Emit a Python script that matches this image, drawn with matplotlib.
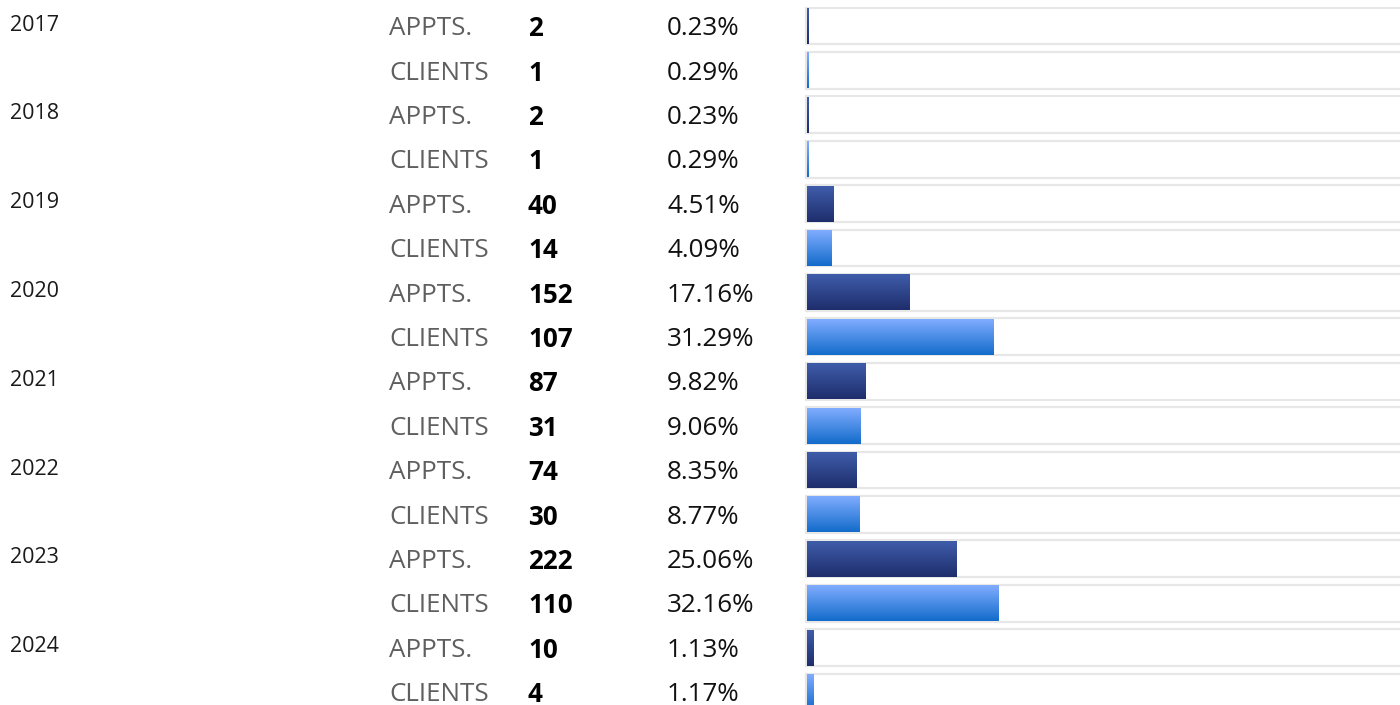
import numpy as np
import matplotlib.pyplot as plt
from matplotlib.colors import LinearSegmentedColormap
from matplotlib.patches import Rectangle
from matplotlib.transforms import blended_transform_factory

years = ["2017", "2018", "2019", "2020", "2021", "2022", "2023", "2024"]
appts = [2, 2, 40, 152, 87, 74, 222, 10]
appts_pct = [0.23, 0.23, 4.51, 17.16, 9.82, 8.35, 25.06, 1.13]
clients = [1, 1, 14, 107, 31, 30, 110, 4]
clients_pct = [0.29, 0.29, 4.09, 31.29, 9.06, 8.77, 32.16, 1.17]

plt.rcParams["font.family"] = ["Open Sans", "DejaVu Sans"]

W, H = 1400, 705
ROW = 44.4  # pixel pitch of one row
TOP = 26    # pixel centre of first row

fig = plt.figure(figsize=(W / 100, H / 100), dpi=100)
fig.patch.set_facecolor("white")

# bar area: 0..100 % spans from x=807 to x=1402
ax = fig.add_axes([807 / W, 0, 595 / W, 1])
ax.axis("off")

appts_cmap = LinearSegmentedColormap.from_list("appts", ["#3f5caa", "#1e2e6c"])
clients_cmap = LinearSegmentedColormap.from_list("clients", ["#80acff", "#136ccb"])
grad = np.linspace(0, 1, 64).reshape(-1, 1)

track_h = 0.415
bar_h = 0.405

rows = []
for i, y in enumerate(years):
    rows.append(("APPTS.", appts[i], appts_pct[i], appts_cmap, y))
    rows.append(("CLIENTS", clients[i], clients_pct[i], clients_cmap, None))

txt = blended_transform_factory(fig.transFigure, ax.transData)
fs = 18.7

for r, (label, count, pct, cmap, year) in enumerate(rows):
    # background track
    ax.add_patch(Rectangle((-0.25, r - track_h), 103, 2 * track_h,
                           facecolor="white", edgecolor="#e7e7e7",
                           linewidth=1.6, zorder=1, clip_on=False))
    # gradient bar
    ax.imshow(grad, cmap=cmap, aspect="auto", origin="upper",
              extent=[0, pct, r + bar_h, r - bar_h], zorder=2,
              interpolation="bilinear")

    if year is not None:
        ax.text(10 / W, r - 0.02, year, transform=txt, fontsize=15.5,
                color="#1a1a1a", va="center", ha="left")
    ax.text(389 / W, r + 0.06, label, transform=txt, fontsize=fs,
            color="#5f5f5f", va="center", ha="left")
    ax.text(528 / W, r + 0.06, str(count), transform=txt, fontsize=fs,
            color="black", fontweight="bold", va="center", ha="left")
    ax.text(667 / W, r + 0.06, f"{pct:.2f}%", transform=txt, fontsize=fs,
            color="#111111", va="center", ha="left")

ax.set_xlim(0, 100)
ax.set_ylim((H - TOP) / ROW, -TOP / ROW)

fig.savefig("out.png", dpi=100, facecolor="white")
